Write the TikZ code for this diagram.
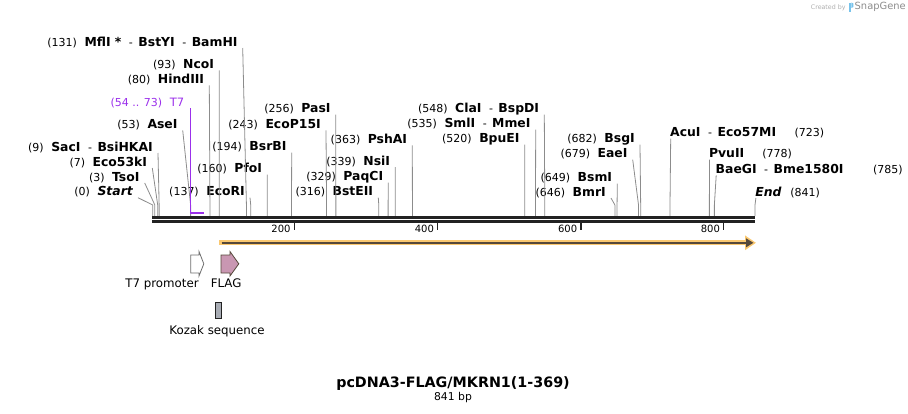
\documentclass[tikz,border=0pt]{standalone}
\usepackage{fontspec}
\setmainfont{DejaVu Sans}
\usepackage{xcolor}
\usetikzlibrary{arrows.meta}
\definecolor{ink}{RGB}{34,34,34}
\definecolor{leadgray}{RGB}{140,140,140}
\definecolor{primer}{RGB}{155,48,235}
\definecolor{orfedge}{RGB}{250,200,112}
\definecolor{orfcore}{RGB}{85,72,58}
\definecolor{flagpink}{RGB}{201,151,178}
\definecolor{kozakgray}{RGB}{168,172,180}
\definecolor{featedge}{RGB}{110,110,110}
\definecolor{credgray}{RGB}{175,175,175}
\definecolor{logoblue}{RGB}{120,195,235}
\newcommand{\posn}[1]{{\fontsize{11}{12}\selectfont(#1)}}
\newcommand{\enz}[1]{{\fontsize{12.4}{13}\selectfont\bfseries #1}}
\newcommand{\dsep}{\hspace{7.5pt}{\fontsize{11}{12}\selectfont-}\hspace{5.5pt}}
\newcommand{\gap}{\hspace{7.5pt}}

\begin{document}
\begin{tikzpicture}[x=1pt, y=-1pt,
    lbl/.style={inner sep=0pt, anchor=base east},
    lblr/.style={inner sep=0pt, anchor=base west},
    leader/.style={draw=leadgray, line width=0.8pt},
    seqline/.style={draw=ink, line width=2.6pt},
    tickmark/.style={draw=ink, line width=1.5pt},
    ticklbl/.style={inner sep=0pt, anchor=base east, font=\fontsize{10}{12}\selectfont},
    feat/.style={line width=0.8pt, line join=miter},
    featlbl/.style={inner sep=0pt, anchor=base, font=\fontsize{11.8}{13}\selectfont}
  ]
    \useasboundingbox (0,0) rectangle (908,413);

    \coordinate (s0) at (152.7+0.7155*0,216);
    \coordinate (s3) at (152.7+0.7155*3,216);
    \coordinate (s7) at (152.7+0.7155*7,216);
    \coordinate (s9) at (152.7+0.7155*9,216);
    \coordinate (s53) at (152.7+0.7155*53,216);
    \coordinate (s80) at (152.7+0.7155*80,216);
    \coordinate (s93) at (152.7+0.7155*93,216);
    \coordinate (s131) at (152.7+0.7155*131,216);
    \coordinate (s137) at (152.7+0.7155*137,216);
    \coordinate (s160) at (152.7+0.7155*160,216);
    \coordinate (s194) at (152.7+0.7155*194,216);
    \coordinate (s243) at (152.7+0.7155*243,216);
    \coordinate (s256) at (152.7+0.7155*256,216);
    \coordinate (s316) at (152.7+0.7155*316,216);
    \coordinate (s329) at (152.7+0.7155*329,216);
    \coordinate (s339) at (152.7+0.7155*339,216);
    \coordinate (s363) at (152.7+0.7155*363,216);
    \coordinate (s520) at (152.7+0.7155*520,216);
    \coordinate (s535) at (152.7+0.7155*535,216);
    \coordinate (s548) at (152.7+0.7155*548,216);
    \coordinate (s646) at (152.7+0.7155*646,216);
    \coordinate (s649) at (152.7+0.7155*649,216);
    \coordinate (s679) at (152.7+0.7155*679,216);
    \coordinate (s682) at (152.7+0.7155*682,216);
    \coordinate (s723) at (152.7+0.7155*723,216);
    \coordinate (s778) at (152.7+0.7155*778,216);
    \coordinate (s785) at (152.7+0.7155*785,216);
    \coordinate (s841) at (755,216);

    \node[lbl] (mfli) at (237.7,46) {\posn{131}\gap\enz{MflI *}\dsep\enz{BstYI}\dsep\enz{BamHI}};
    \node[lbl] (ncoi) at (214.3,68.3) {\posn{93}\gap\enz{NcoI}};
    \node[lbl] (hindiii) at (204.3,83.3) {\posn{80}\gap\enz{HindIII}};
    \node[lbl, text=primer] (t7) at (184.3,106) {\posn{54 .. 73}\gap{\fontsize{11.5}{13}\selectfont T7}};
    \node[lbl] (asei) at (177.7,128.3) {\posn{53}\gap\enz{AseI}};
    \node[lbl] (saci) at (153,151) {\posn{9}\gap\enz{SacI}\dsep\enz{BsiHKAI}};
    \node[lbl] (eco53ki) at (147.3,166) {\posn{7}\gap\enz{Eco53kI}};
    \node[lbl] (tsoi) at (139.7,181) {\posn{3}\gap\enz{TsoI}};
    \node[lbl] (startlbl) at (133,195.7) {\posn{0}\gap\enz{\itshape Start}};
    \node[lbl] (ecori) at (245,195.7) {\posn{137}\gap\enz{EcoRI}};
    \node[lbl] (pfoi) at (262.3,172.7) {\posn{160}\gap\enz{PfoI}};
    \node[lbl] (bsrbi) at (286.7,150.7) {\posn{194}\gap\enz{BsrBI}};
    \node[lbl] (ecop15i) at (321,128.3) {\posn{243}\gap\enz{EcoP15I}};
    \node[lbl] (pasi) at (330.7,112.7) {\posn{256}\gap\enz{PasI}};
    \node[lbl] (bsteii) at (373.3,195.7) {\posn{316}\gap\enz{BstEII}};
    \node[lbl] (paqci) at (383.3,180.7) {\posn{329}\gap\enz{PaqCI}};
    \node[lbl] (nsii) at (390.3,165) {\posn{339}\gap\enz{NsiI}};
    \node[lbl] (pshai) at (407.3,143.3) {\posn{363}\gap\enz{PshAI}};
    \node[lbl] (bpuei) at (519.7,142.7) {\posn{520}\gap\enz{BpuEI}};
    \node[lbl] (smli) at (530.7,127.7) {\posn{535}\gap\enz{SmlI}\dsep\enz{MmeI}};
    \node[lbl] (clai) at (539.3,112.7) {\posn{548}\gap\enz{ClaI}\dsep\enz{BspDI}};
    \node[lbl] (bmri) at (606,196) {\posn{646}\gap\enz{BmrI}};
    \node[lbl] (bsmi) at (612.3,181.7) {\posn{649}\gap\enz{BsmI}};
    \node[lbl] (eaei) at (627.7,157.7) {\posn{679}\gap\enz{EaeI}};
    \node[lbl] (bsgi) at (635,142.7) {\posn{682}\gap\enz{BsgI}};
    \node[lblr] (acui) at (670,136.7) {\makebox[124.3pt][l]{\enz{AcuI}\dsep\enz{Eco57MI}}\posn{723}};
    \node[lblr] (pvuii) at (708.8,157.7) {\makebox[53.4pt][l]{\enz{PvuII}}\posn{778}};
    \node[lblr] (baegi) at (715.5,173.3) {\makebox[157.3pt][l]{\enz{BaeGI}\dsep\enz{Bme1580I}}\posn{785}};
    \node[lblr] (endlbl) at (755.2,196) {\makebox[35pt][l]{\enz{\itshape End}}\posn{841}};

    \draw[leader] ([shift={(5pt,-2pt)}]mfli.base east) -- ([yshift=11pt]s131) -- (s131);
    \draw[leader] ([shift={(5pt,-2pt)}]ncoi.base east) -- ([yshift=11pt]s93) -- (s93);
    \draw[leader] ([shift={(5pt,-2pt)}]hindiii.base east) -- ([yshift=11pt]s80) -- (s80);
    \draw[leader] ([shift={(5pt,-2pt)}]asei.base east) -- ([yshift=11pt]s53) -- (s53);
    \draw[leader] ([shift={(5pt,-2pt)}]saci.base east) -- ([yshift=11pt]s9) -- (s9);
    \draw[leader] ([shift={(5pt,-2pt)}]eco53ki.base east) -- ([yshift=11pt]s7) -- (s7);
    \draw[leader] ([shift={(5pt,-2pt)}]tsoi.base east) -- ([yshift=11pt]s3) -- (s3);
    \draw[leader] ([shift={(5pt,-2pt)}]startlbl.base east) -- ([yshift=11pt]s0) -- (s0);
    \draw[leader] ([shift={(5pt,-2pt)}]ecori.base east) -- ([yshift=11pt]s137) -- (s137);
    \draw[leader] ([shift={(5pt,-2pt)}]pfoi.base east) -- ([yshift=11pt]s160) -- (s160);
    \draw[leader] ([shift={(5pt,-2pt)}]bsrbi.base east) -- ([yshift=11pt]s194) -- (s194);
    \draw[leader] ([shift={(5pt,-2pt)}]ecop15i.base east) -- ([yshift=11pt]s243) -- (s243);
    \draw[leader] ([shift={(5pt,-2pt)}]pasi.base east) -- ([yshift=11pt]s256) -- (s256);
    \draw[leader] ([shift={(5pt,-2pt)}]bsteii.base east) -- ([yshift=11pt]s316) -- (s316);
    \draw[leader] ([shift={(5pt,-2pt)}]paqci.base east) -- ([yshift=11pt]s329) -- (s329);
    \draw[leader] ([shift={(5pt,-2pt)}]nsii.base east) -- ([yshift=11pt]s339) -- (s339);
    \draw[leader] ([shift={(5pt,-2pt)}]pshai.base east) -- ([yshift=11pt]s363) -- (s363);
    \draw[leader] ([shift={(5pt,-2pt)}]bpuei.base east) -- ([yshift=11pt]s520) -- (s520);
    \draw[leader] ([shift={(5pt,-2pt)}]smli.base east) -- ([yshift=11pt]s535) -- (s535);
    \draw[leader] ([shift={(5pt,-2pt)}]clai.base east) -- ([yshift=11pt]s548) -- (s548);
    \draw[leader] ([shift={(5pt,-2pt)}]bmri.base east) -- ([yshift=11pt]s646) -- (s646);
    \draw[leader] ([shift={(5pt,-2pt)}]bsmi.base east) -- ([yshift=11pt]s649) -- (s649);
    \draw[leader] ([shift={(5pt,-2pt)}]eaei.base east) -- ([yshift=11pt]s679) -- (s679);
    \draw[leader] ([shift={(5pt,-2pt)}]bsgi.base east) -- ([yshift=11pt]s682) -- (s682);
    \draw[leader] ([shift={(0.7pt,-2pt)}]acui.base west) -- ([yshift=11pt]s723) -- (s723);
    \draw[leader] ([shift={(0.7pt,-2pt)}]pvuii.base west) -- ([yshift=11pt]s778) -- (s778);
    \draw[leader] ([shift={(0.7pt,-2pt)}]baegi.base west) -- ([yshift=11pt]s785) -- (s785);
    \draw[leader] ([shift={(0.7pt,-2pt)}]endlbl.base west) -- ([yshift=11pt]s841) -- (s841);

    \coordinate (t7a) at (190.3,212.7);
    \coordinate (t7b) at (204,212.7);
    \draw[primer, line width=1pt] ([shift={(6pt,-2.3pt)}]t7.base east) -- (t7a);
    \draw[primer, line width=1.7pt] ([xshift=-0.5pt]t7a) -- (t7b);

    \draw[seqline] (152,217.5) -- (755,217.5);
    \draw[seqline] (152,221.4) -- (755,221.4);

    \draw[tickmark] (294.3,222.7) -- (294.3,230);
    \draw[tickmark] (437.7,222.7) -- (437.7,230);
    \draw[tickmark] (581,222.7) -- (581,230);
    \draw[tickmark] (723.7,222.7) -- (723.7,230);
    \node[ticklbl] (t200) at (290.7,232.3) {200};
    \node[ticklbl] (t400) at (434.1,232.3) {400};
    \node[ticklbl] (t600) at (577.4,232.3) {600};
    \node[ticklbl] (t800) at (720.1,232.3) {800};

    \coordinate (orfa) at (219,242.8);
    \coordinate (orfb) at (756,242.8);
    \draw[draw=orfedge, line width=5.2pt, -{Triangle[length=11pt,width=14pt]}] (orfa) -- (orfb);
    \draw[draw=orfcore, line width=1.8pt, -{Triangle[length=7.5pt,width=8.5pt]}] ([xshift=2.5pt]orfa) -- ([xshift=-2.5pt]orfb);

    \draw[feat, draw=featedge, fill=white] (190.7,255) -- (199,255) -- (199,251.5) -- (203.8,263.8)
      -- (199,276) -- (199,273) -- (190.7,273) -- cycle;
    \draw[feat, draw=orfcore, fill=flagpink] (221,255) -- (230,255) -- (230,251.5) -- (238.8,263.8)
      -- (230,276) -- (230,273) -- (221,273) -- cycle;
    \draw[feat, draw=ink, fill=kozakgray] (215.3,302.7) rectangle (221,318.3);
    \node[featlbl] (t7prom) at (162,287.3) {T7 promoter};
    \node[featlbl] (flag) at (226.1,287.3) {FLAG};
    \node[featlbl] (kozak) at (217,334.3) {Kozak sequence};

    \node[inner sep=0pt, anchor=base, font=\fontsize{14.3}{16}\selectfont\bfseries] (title) at (453,387) {pcDNA3-FLAG/MKRN1(1-369)};
    \node[inner sep=0pt, anchor=base, font=\fontsize{10.8}{12}\selectfont] (size) at (453,400.7) {841 bp};

    \node[inner sep=0pt, anchor=base west, text=credgray, font=\fontsize{6.3}{7}\selectfont] (credit) at (810.7,9.5) {Created by};
    \fill[logoblue] (849.3,2.5) rectangle (851.3,12);
    \fill[logoblue] (851.3,2.5) -- (853.3,3.5) -- (853.3,7) -- (851.3,8) -- cycle;
    \node[inner sep=0pt, anchor=base west, text=leadgray, font=\fontsize{9.9}{11}\selectfont] (snapgene) at (854.5,9.8) {SnapGene};
  \end{tikzpicture}
\end{document}
